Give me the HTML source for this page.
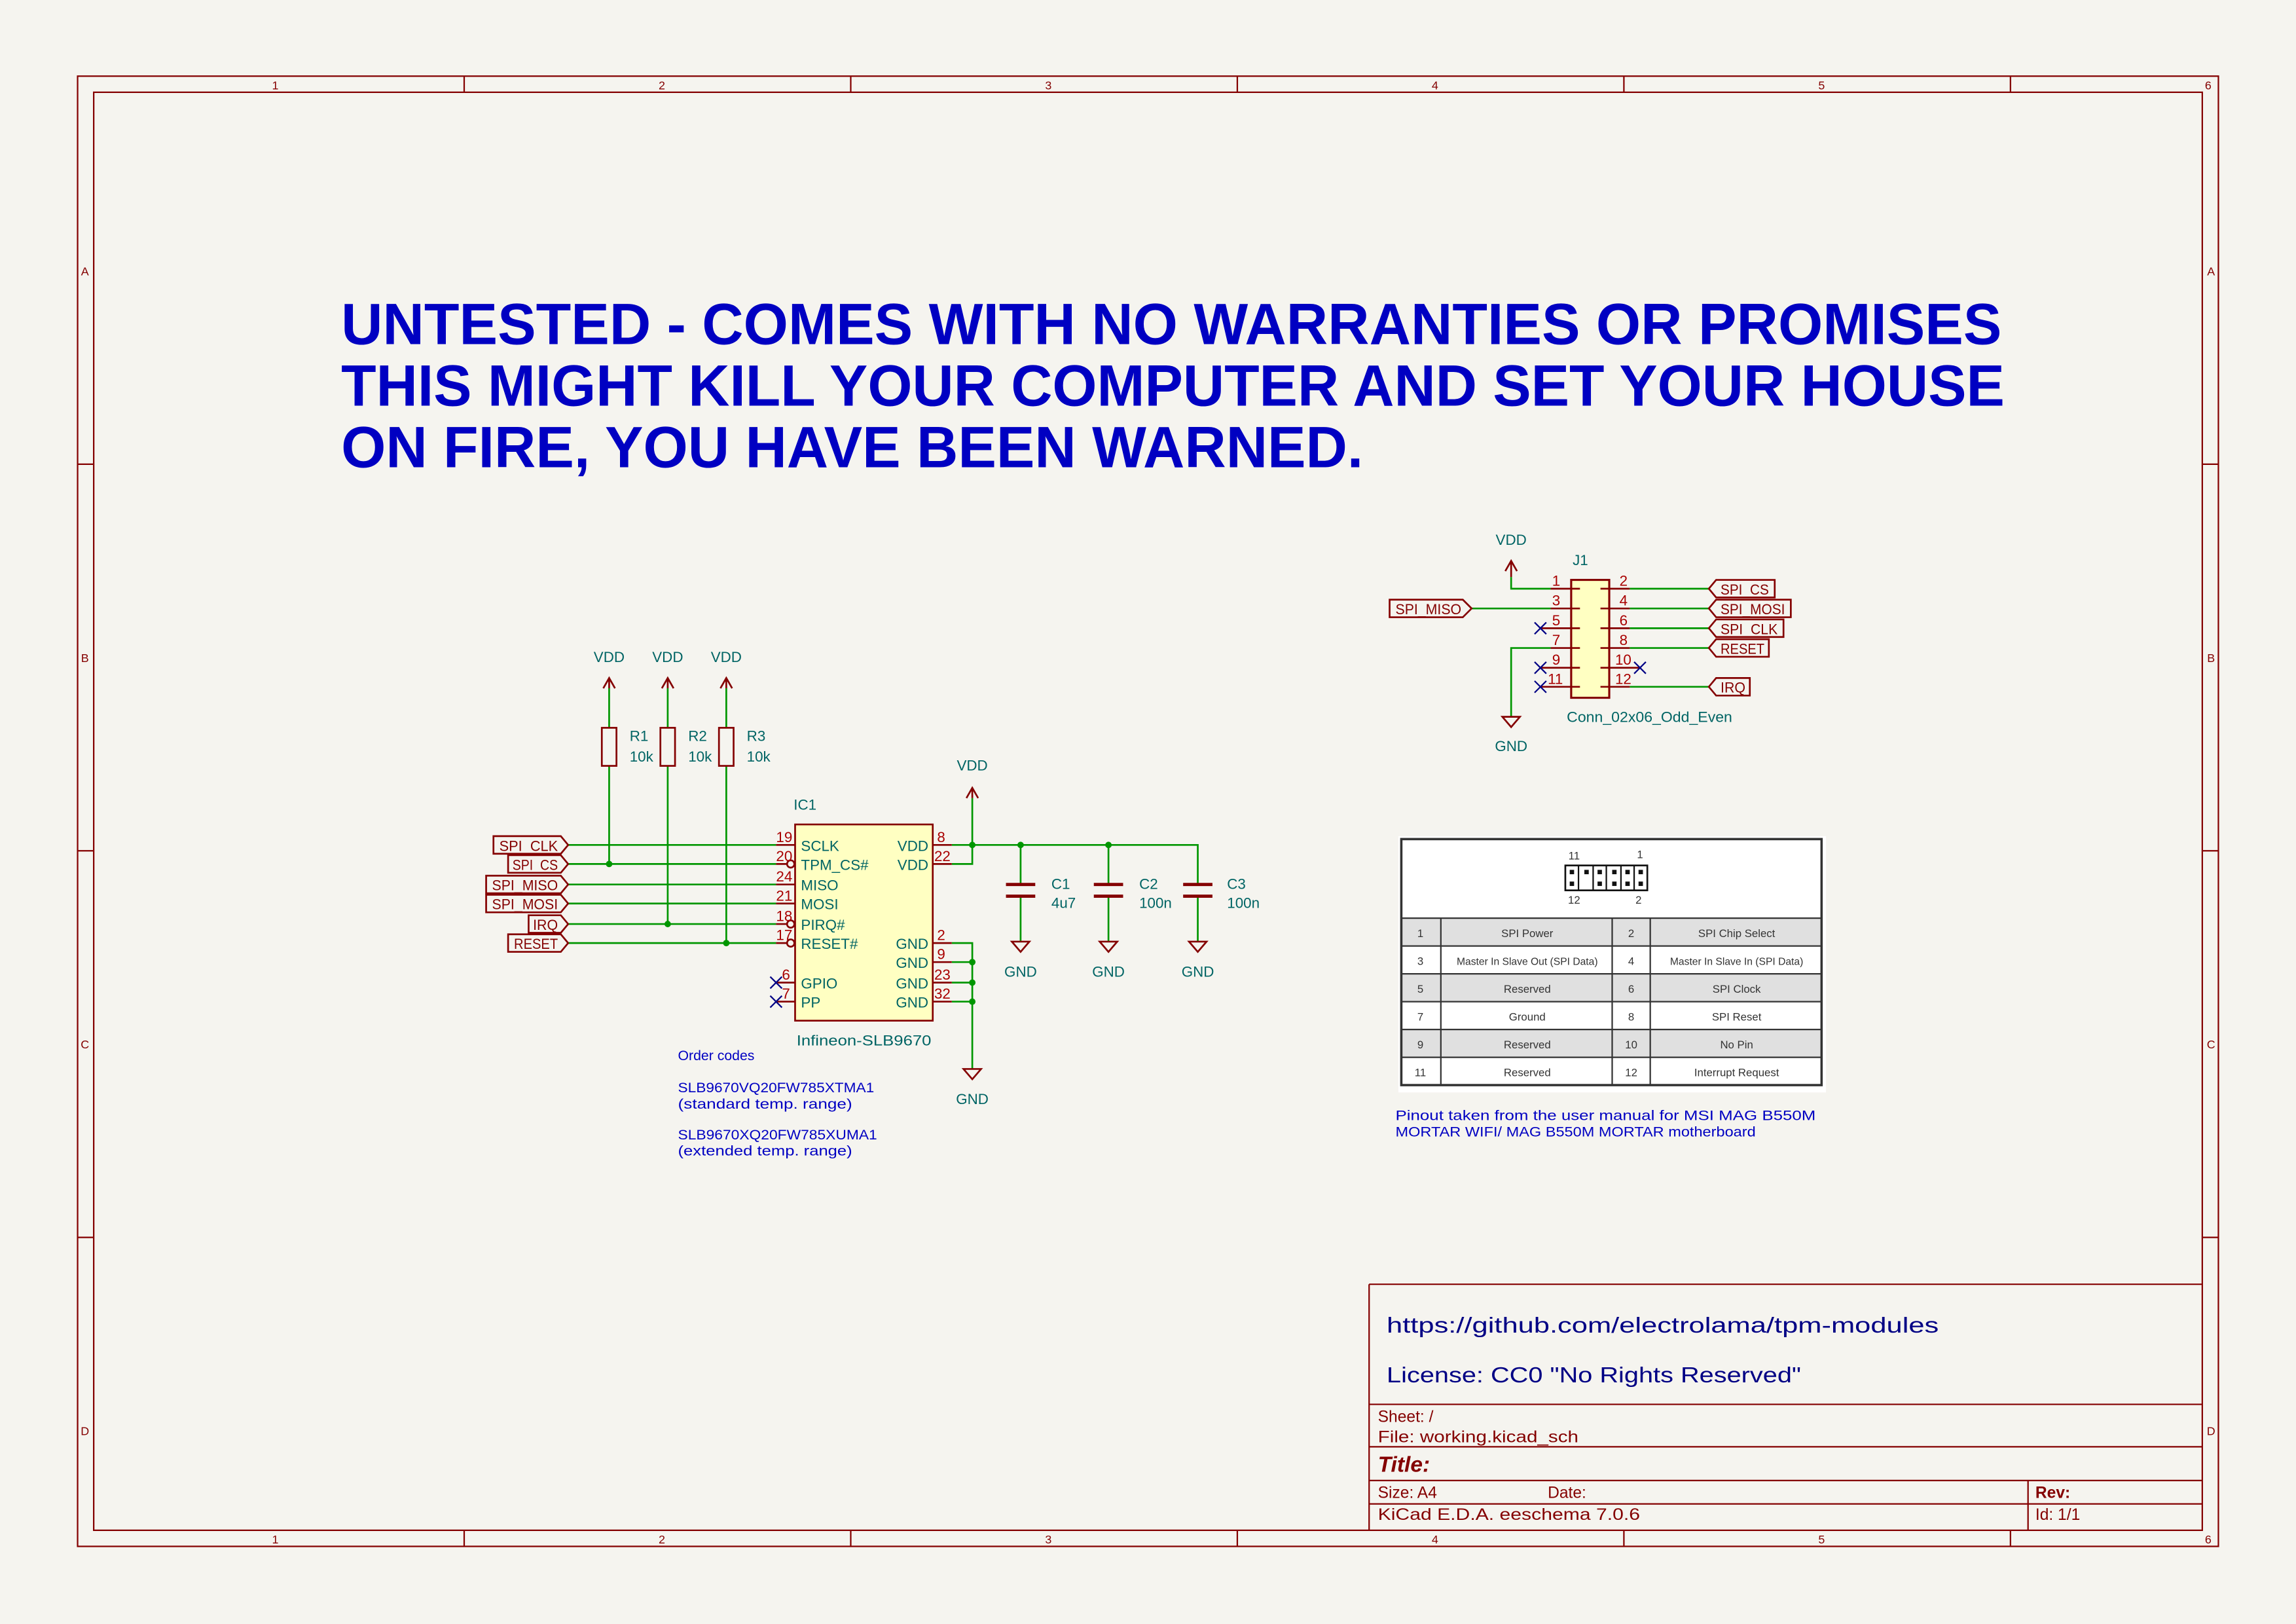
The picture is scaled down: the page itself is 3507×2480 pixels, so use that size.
<!DOCTYPE html>
<html><head><meta charset="utf-8"><style>html,body{margin:0;padding:0;background:#f5f4ef}svg{display:block}text{font-family:"Liberation Sans",sans-serif}</style></head><body>
<svg width="3507" height="2480" viewBox="0 0 1568 1109" preserveAspectRatio="none" xmlns="http://www.w3.org/2000/svg">
<rect width="1568" height="1109" fill="#f5f4ef"/>
<g stroke="#840000" stroke-width="1" fill="none">
<rect x="53" y="52" width="1462" height="1004"/>
<rect x="64" y="63" width="1440" height="982"/>
<path d="M317 52v11M581 52v11M845 52v11M1109 52v11M1373 52v11M317 1045v11M581 1045v11M845 1045v11M1109 1045v11M1373 1045v11M53 317h11M53 581h11M53 845h11M1504 317h11M1504 581h11M1504 845h11"/>
<path d="M935 877h569M935 877v168M935 959h569M935 988h569M935 1011h569M935 1027h569M1385 1011v34"/>
</g>
<g fill="#840000" font-size="8" text-anchor="middle">
<text x="188" y="61">1</text><text x="452" y="61">2</text><text x="716" y="61">3</text><text x="980" y="61">4</text><text x="1244" y="61">5</text><text x="1508" y="61">6</text>
<text x="188" y="1054">1</text><text x="452" y="1054">2</text><text x="716" y="1054">3</text><text x="980" y="1054">4</text><text x="1244" y="1054">5</text><text x="1508" y="1054">6</text>
<text x="58" y="188">A</text><text x="58" y="452">B</text><text x="58" y="716">C</text><text x="58" y="980">D</text>
<text x="1510" y="188">A</text><text x="1510" y="452">B</text><text x="1510" y="716">C</text><text x="1510" y="980">D</text>
</g>
<g fill="#0000c2" font-weight="bold" font-size="40">
<text x="233" y="235" textLength="1134" lengthAdjust="spacingAndGlyphs">UNTESTED - COMES WITH NO WARRANTIES OR PROMISES</text>
<text x="233" y="277" textLength="1136" lengthAdjust="spacingAndGlyphs">THIS MIGHT KILL YOUR COMPUTER AND SET YOUR HOUSE</text>
<text x="233" y="319" textLength="698" lengthAdjust="spacingAndGlyphs">ON FIRE, YOU HAVE BEEN WARNED.</text>
</g>
<g fill="#000084" font-size="15">
<text x="947" y="910" textLength="377" lengthAdjust="spacingAndGlyphs">https://github.com/electrolama/tpm-modules</text>
<text x="947" y="944" textLength="283" lengthAdjust="spacingAndGlyphs">License: CC0 "No Rights Reserved"</text>
</g>
<g fill="#840000" font-size="11">
<text x="941" y="971">Sheet: /</text>
<text x="941" y="985" textLength="137" lengthAdjust="spacingAndGlyphs">File: working.kicad_sch</text>
<text x="941" y="1005" font-size="15" font-weight="bold" font-style="italic">Title:</text>
<text x="941" y="1023">Size: A4</text><text x="1057" y="1023">Date:</text>
<text x="1390" y="1023" font-weight="bold">Rev:</text>
<text x="941" y="1038" textLength="179" lengthAdjust="spacingAndGlyphs">KiCad E.D.A.  eeschema 7.0.6</text>
<text x="1390" y="1038">Id: 1/1</text>
</g>
<g stroke="#009600" stroke-width="1.2" fill="none">
<path d="M388 577H530M388 590H530M388 604H530M388 617H530M388 631H530M388 644H530"/>
<path d="M416 523V590M456 523V631M496 523V644M416 470V497M456 470V497M496 470V497"/>
<path d="M650 577H818V604M650 590H664V577M664 577V545M697 577V604M757 577V604M697 612V643M757 612V643M818 612V643"/>
<path d="M650 644H664V730M650 657H664M650 671H664M650 684H664"/>
<path d="M1059 402H1032V394M1005 415.5H1059M1059 442.5H1032V489M1113 402H1167M1113 415.5H1167M1113 429H1167M1113 442.5H1167M1113 469H1167"/>
</g>
<g fill="#009600">
<circle cx="416" cy="590" r="2.2"/><circle cx="456" cy="631" r="2.2"/><circle cx="496" cy="644" r="2.2"/>
<circle cx="664" cy="577" r="2.2"/><circle cx="697" cy="577" r="2.2"/><circle cx="757" cy="577" r="2.2"/>
<circle cx="664" cy="657" r="2.2"/><circle cx="664" cy="671" r="2.2"/><circle cx="664" cy="684" r="2.2"/>
</g>
<g stroke="#840000" stroke-width="1.2" fill="none">
<path d="M416 470V463M412 470L416 463L420 470M456 470V463M452 470L456 463L460 470M496 470V463M492 470L496 463L500 470"/>
<rect x="411" y="497" width="10" height="26"/><rect x="451" y="497" width="10" height="26"/><rect x="491" y="497" width="10" height="26"/>
<path d="M664 545V538M660 545L664 538L668 545"/>
<path d="M687 604H707M687 612H707M747 604H767M747 612H767M808 604H828M808 612H828" stroke-width="2.2"/>
<path d="M691 643H703L697 650ZM751 643H763L757 650ZM812 643H824L818 650ZM658 730H670L664 737Z"/>
<path d="M530 577H543M530 590H541M530 604H543M530 617H543M530 631H541M530 644H541M530 671H543M530 684H543M637 577H650M637 590H650M637 644H650M637 657H650M637 671H650M637 684H650"/>
<circle cx="540" cy="590" r="2.5" fill="#f5f4ef"/><circle cx="540" cy="631" r="2.5" fill="#f5f4ef"/><circle cx="540" cy="644" r="2.5" fill="#f5f4ef"/>
<path d="M543 573L548 577L543 581"/>
<path d="M1032 394V383M1028 390L1032 383L1036 390M1026 489.5H1038L1032 496.5Z"/>
<path d="M1052 429H1073M1052 456H1073M1052 469H1073M1059 402H1073M1059 415.5H1073M1059 442.5H1073M1099 402H1113M1099 415.5H1113M1099 429H1113M1099 442.5H1113M1099 456H1120M1099 469H1113"/>
</g>
<rect x="543" y="563" width="94" height="134" fill="#ffffc2" stroke="#840000" stroke-width="1.2"/>
<rect x="1073" y="396" width="26" height="80.5" fill="#ffffc2" stroke="#840000" stroke-width="1.4"/>
<g stroke="#840000" stroke-width="1.2"><path d="M1073 402h6M1073 415.5h6M1073 429h6M1073 442.5h6M1073 456h6M1073 469h6M1093 402h6M1093 415.5h6M1093 429h6M1093 442.5h6M1093 456h6M1093 469h6"/></g>
<g stroke="#000084" fill="none" stroke-width="1"><path d="M526 667l8 8M534 667l-8 8M526 680l8 8M534 680l-8 8M1048 425l8 8M1056 425l-8 8M1048 452l8 8M1056 452l-8 8M1048 465l8 8M1056 465l-8 8M1116 452l8 8M1124 452l-8 8"/></g>
<g stroke="#840000" stroke-width="1.2" fill="none">
<path d="M337 571H383L388 577L383 583H337Z"/>
<path d="M347 584H383L388 590L383 596H347Z"/>
<path d="M332 598H383L388 604L383 610H332Z"/>
<path d="M332 611H383L388 617L383 623H332Z"/>
<path d="M361 625H383L388 631L383 637H361Z"/>
<path d="M347 638H383L388 644L383 650H347Z"/>
<path d="M949 409.5H999L1005 415.5L999 421.5H949Z"/>
<path d="M1167 402L1172 396H1212V408H1172Z"/>
<path d="M1167 415.5L1172 409.5H1223V421.5H1172Z"/>
<path d="M1167 429L1172 423H1218V435H1172Z"/>
<path d="M1167 442.5L1172 436.5H1208V448.5H1172Z"/>
<path d="M1167 469L1172 463H1195V475H1172Z"/>
</g>
<g fill="#840000" font-size="10">
<text x="341" y="581" textLength="40" lengthAdjust="spacingAndGlyphs">SPI_CLK</text>
<text x="350" y="594" textLength="31" lengthAdjust="spacingAndGlyphs">SPI_CS</text>
<text x="336" y="608" textLength="45" lengthAdjust="spacingAndGlyphs">SPI_MISO</text>
<text x="336" y="621" textLength="45" lengthAdjust="spacingAndGlyphs">SPI_MOSI</text>
<text x="364" y="635" textLength="17" lengthAdjust="spacingAndGlyphs">IRQ</text>
<text x="351" y="648" textLength="30" lengthAdjust="spacingAndGlyphs">RESET</text>
<text x="953" y="419.5" textLength="45" lengthAdjust="spacingAndGlyphs">SPI_MISO</text>
<text x="1175" y="406" textLength="33" lengthAdjust="spacingAndGlyphs">SPI_CS</text>
<text x="1175" y="419.5" textLength="44" lengthAdjust="spacingAndGlyphs">SPI_MOSI</text>
<text x="1175" y="433" textLength="39" lengthAdjust="spacingAndGlyphs">SPI_CLK</text>
<text x="1175" y="446.5" textLength="30" lengthAdjust="spacingAndGlyphs">RESET</text>
<text x="1175" y="473" textLength="17" lengthAdjust="spacingAndGlyphs">IRQ</text>
</g>
<g fill="#a90000" font-size="10">
<text x="530" y="575">19</text><text x="530" y="588">20</text><text x="530" y="602">24</text><text x="530" y="615">21</text><text x="530" y="629">18</text><text x="530" y="642">17</text><text x="534" y="669">6</text><text x="534" y="682">7</text>
<text x="640" y="575">8</text><text x="638" y="588">22</text><text x="640" y="642">2</text><text x="640" y="655">9</text><text x="638" y="669">23</text><text x="638" y="682">32</text>
<text x="1060" y="400">1</text><text x="1060" y="413.5">3</text><text x="1060" y="427">5</text><text x="1060" y="440.5">7</text><text x="1060" y="454">9</text><text x="1057" y="467">11</text>
<text x="1106" y="400">2</text><text x="1106" y="413.5">4</text><text x="1106" y="427">6</text><text x="1106" y="440.5">8</text><text x="1103" y="454">10</text><text x="1103" y="467">12</text>
</g>
<g fill="#006464" font-size="10">
<text x="547" y="581">SCLK</text><text x="547" y="594">TPM_CS#</text><text x="547" y="608">MISO</text><text x="547" y="621">MOSI</text><text x="547" y="635">PIRQ#</text><text x="547" y="648">RESET#</text><text x="547" y="675">GPIO</text><text x="547" y="688">PP</text>
<g text-anchor="end"><text x="634" y="581">VDD</text><text x="634" y="594">VDD</text><text x="634" y="648">GND</text><text x="634" y="661">GND</text><text x="634" y="675">GND</text><text x="634" y="688">GND</text></g>
<text x="542" y="553">IC1</text><text x="544" y="714" textLength="92" lengthAdjust="spacingAndGlyphs">Infineon-SLB9670</text>
<g text-anchor="middle"><text x="416" y="452">VDD</text><text x="456" y="452">VDD</text><text x="496" y="452">VDD</text><text x="664" y="526">VDD</text><text x="697" y="667">GND</text><text x="757" y="667">GND</text><text x="818" y="667">GND</text><text x="664" y="754">GND</text><text x="1032" y="372">VDD</text><text x="1032" y="513">GND</text></g>
<text x="430" y="506">R1</text><text x="430" y="520">10k</text><text x="470" y="506">R2</text><text x="470" y="520">10k</text><text x="510" y="506">R3</text><text x="510" y="520">10k</text>
<text x="718" y="607">C1</text><text x="718" y="620">4u7</text><text x="778" y="607">C2</text><text x="778" y="620">100n</text><text x="838" y="607">C3</text><text x="838" y="620">100n</text>
<text x="1074" y="386">J1</text><text x="1070" y="493" textLength="113" lengthAdjust="spacingAndGlyphs">Conn_02x06_Odd_Even</text>
</g>
<g fill="#0000c2" font-size="9.5">
<text x="463" y="724">Order codes</text>
<text x="463" y="746" textLength="134" lengthAdjust="spacingAndGlyphs">SLB9670VQ20FW785XTMA1</text>
<text x="463" y="757" textLength="119" lengthAdjust="spacingAndGlyphs">(standard temp. range)</text>
<text x="463" y="778" textLength="136" lengthAdjust="spacingAndGlyphs">SLB9670XQ20FW785XUMA1</text>
<text x="463" y="789" textLength="119" lengthAdjust="spacingAndGlyphs">(extended temp. range)</text>
<text x="953" y="765" textLength="287" lengthAdjust="spacingAndGlyphs">Pinout taken from the user manual for MSI MAG B550M</text>
<text x="953" y="776" textLength="246" lengthAdjust="spacingAndGlyphs">MORTAR WIFI/ MAG B550M MORTAR motherboard</text>
</g>
<rect x="955" y="571" width="292" height="175" fill="#fff"/>
<g fill="#e0e0e0"><rect x="957" y="627" width="287" height="19"/><rect x="957" y="665" width="287" height="19"/><rect x="957" y="703" width="287" height="19"/></g>
<g stroke="#333" fill="none" stroke-width="1">
<rect x="957" y="573" width="287" height="168" stroke-width="1.6"/>
<path d="M957 627H1244M957 646H1244M957 665H1244M957 684H1244M957 703H1244M957 722H1244M984 627V741M1101 627V741M1127 627V741"/>
<rect x="1069" y="591" width="56" height="17" stroke-width="1.2" stroke="#111"/>
<path d="M1078 591v17M1088 591v17M1097 591v17M1107 591v17M1116 591v17" stroke="#111"/>
</g>
<g fill="#111"><rect x="1072" y="594" width="3" height="3"/><rect x="1072" y="602" width="3" height="3"/><rect x="1082" y="594" width="3" height="3"/><rect x="1091" y="594" width="3" height="3"/><rect x="1091" y="602" width="3" height="3"/><rect x="1101" y="594" width="3" height="3"/><rect x="1101" y="602" width="3" height="3"/><rect x="1110" y="594" width="3" height="3"/><rect x="1110" y="602" width="3" height="3"/><rect x="1119" y="594" width="3" height="3"/><rect x="1119" y="602" width="3" height="3"/></g>
<g fill="#333" font-size="7.5" text-anchor="middle">
<text x="1075" y="587">11</text><text x="1120" y="586">1</text><text x="1075" y="617">12</text><text x="1119" y="617">2</text>
<text x="970" y="640">1</text><text x="1043" y="640">SPI Power</text><text x="1114" y="640">2</text><text x="1186" y="640">SPI Chip Select</text>
<text x="970" y="659">3</text><text x="1043" y="659" font-size="7">Master In Slave Out (SPI Data)</text><text x="1114" y="659">4</text><text x="1186" y="659" font-size="7">Master In Slave In (SPI Data)</text>
<text x="970" y="678">5</text><text x="1043" y="678">Reserved</text><text x="1114" y="678">6</text><text x="1186" y="678">SPI Clock</text>
<text x="970" y="697">7</text><text x="1043" y="697">Ground</text><text x="1114" y="697">8</text><text x="1186" y="697">SPI Reset</text>
<text x="970" y="716">9</text><text x="1043" y="716">Reserved</text><text x="1114" y="716">10</text><text x="1186" y="716">No Pin</text>
<text x="970" y="735">11</text><text x="1043" y="735">Reserved</text><text x="1114" y="735">12</text><text x="1186" y="735">Interrupt Request</text>
</g>
</svg>
</body></html>
